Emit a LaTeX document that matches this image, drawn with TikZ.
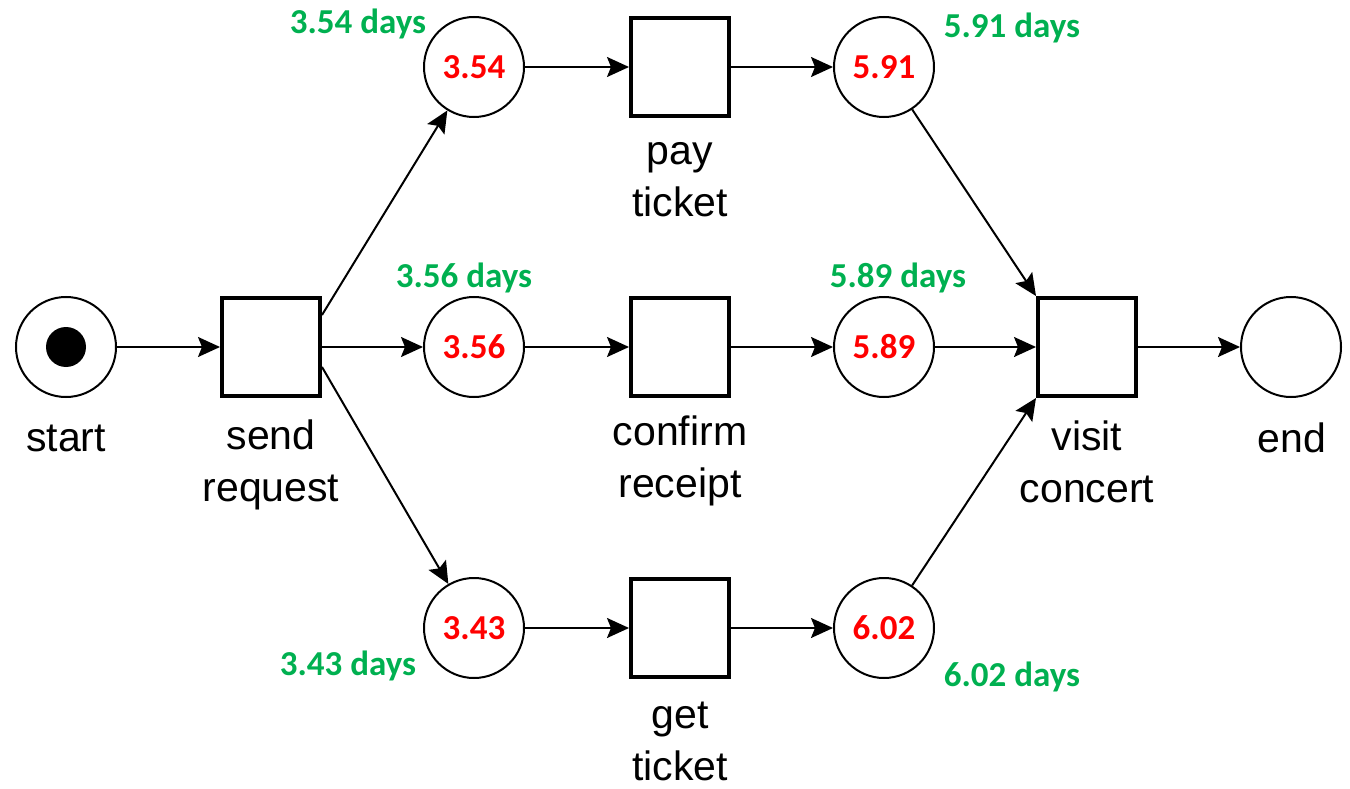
\documentclass[tikz,border=0pt]{standalone}
\usepackage{fontspec}
\setmainfont{Liberation Sans}
\newfontfamily\calib{Carlito}
\usetikzlibrary{arrows.meta}
\definecolor{dgreen}{RGB}{0,176,80}
\definecolor{dred}{RGB}{255,0,0}
\begin{document}
\begin{tikzpicture}[x=1pt,y=-1pt,
  place/.style={circle,draw,line width=2pt,minimum size=100pt,inner sep=0pt,font=\calib\bfseries\fontsize{35}{40}\selectfont,text=dred},
  trans/.style={rectangle,draw,line width=4pt,minimum size=98pt,inner sep=0pt},
  lbl/.style={align=center,font=\fontsize{41}{52}\selectfont},
  dur/.style={text=dgreen,font=\calib\bfseries\fontsize{35}{40}\selectfont},
  arc/.style={line width=2pt,-{Stealth[length=22pt,width=20pt,inset=4pt]}},
  token/.style={circle,fill=black,minimum size=40pt,inner sep=0pt}]
\useasboundingbox (0,0) rectangle (1350,789);
% places
\node[place] (start) at (66,347) {};
\node[token] (tok) at (66,347) {};
\node[place] (p1) at (474,67) {3.54};
\node[place] (p2) at (474,347) {3.56};
\node[place] (p3) at (474,628) {3.43};
\node[place] (p4) at (884,67) {5.91};
\node[place] (p5) at (884,347) {5.89};
\node[place] (p6) at (884,628) {6.02};
\node[place] (end) at (1291,347) {};
% transitions
\node[trans] (sr) at (271,347) {};
\node[trans] (pt) at (680,67) {};
\node[trans] (cr) at (680,347) {};
\node[trans] (gt) at (680,628) {};
\node[trans] (vc) at (1087,347) {};
% labels
\node[lbl] (lstart) at (66,438) {start};
\node[lbl] (lsr) at (271,465) {send\\request};
\node[lbl] (lpt) at (680,180) {pay\\ticket};
\node[lbl] (lcr) at (680,461) {confirm\\receipt};
\node[lbl] (lgt) at (680,741) {get\\ticket};
\node[lbl] (lvc) at (1087,462) {visit\\concert};
\node[lbl] (lend) at (1292,438) {end};
% durations
\node[dur] (d1) at (358,24) {3.54 days};
\node[dur] (d4) at (1012,28) {5.91 days};
\node[dur] (d2) at (464,278) {3.56 days};
\node[dur] (d5) at (898,278) {5.89 days};
\node[dur] (d3) at (348,666) {3.43 days};
\node[dur] (d6) at (1012,677) {6.02 days};
% arcs
\draw[arc] (start) -- (sr);
\draw[arc] ([yshift=32pt]sr.east) -- (p1);
\draw[arc] (sr) -- (p2);
\draw[arc] ([yshift=-20pt]sr.east) -- (p3);
\draw[arc] (p1) -- (pt);
\draw[arc] (p2) -- (cr);
\draw[arc] (p3) -- (gt);
\draw[arc] (pt) -- (p4);
\draw[arc] (cr) -- (p5);
\draw[arc] (gt) -- (p6);
\draw[arc] (p4) -- (vc.north west);
\draw[arc] (p5) -- (vc);
\draw[arc] (p6) -- (vc.south west);
\draw[arc] (vc) -- (end);
\end{tikzpicture}
\end{document}
